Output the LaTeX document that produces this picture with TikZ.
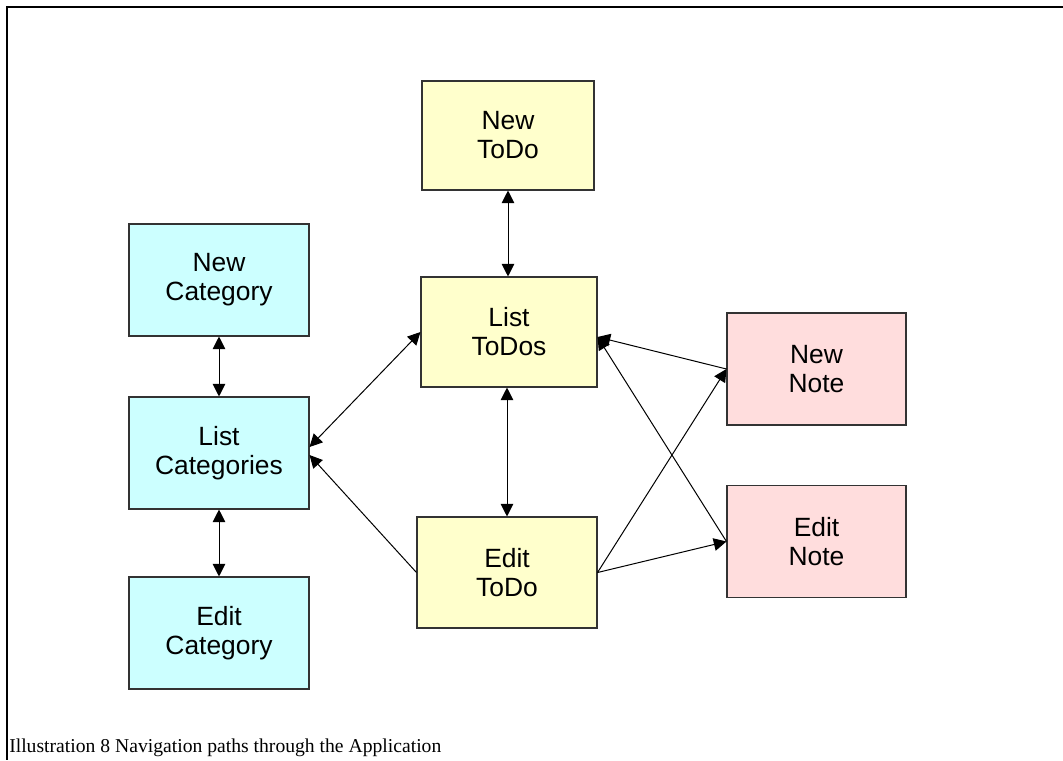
\documentclass[tikz,border=0pt]{standalone}
\usepackage{fontspec}
\setmainfont{Liberation Sans}
\newfontfamily\capfont{Liberation Serif}
\usetikzlibrary{arrows.meta}
\definecolor{catfill}{HTML}{CCFFFF}
\definecolor{todofill}{HTML}{FFFFCC}
\definecolor{notefill}{HTML}{FFDDDD}
\definecolor{boxline}{HTML}{333333}
\tikzset{
  pagebox/.style={draw=boxline, line width=0.8pt, align=center, inner sep=0pt,
    font=\fontsize{19.8pt}{21.75pt}\selectfont},
  catbox/.style={pagebox, fill=catfill, minimum width=135pt, minimum height=84pt},
  todobox/.style={pagebox, fill=todofill},
  notebox/.style={pagebox, fill=notefill, minimum width=134.25pt, minimum height=84pt},
  link/.style={line width=0.75pt, -{Triangle[length=9.5pt,width=9.5pt]}},
  dlink/.style={line width=0.75pt, {Triangle[length=9.5pt,width=9.5pt]}-{Triangle[length=9.5pt,width=9.5pt]}},
  frameline/.style={line width=1.5pt}
}
\begin{document}
\begin{tikzpicture}[x=0.75pt,y=-0.75pt]
\useasboundingbox (0,0) rectangle (1063,760);
\coordinate (ftr) at (1063,7);
\coordinate (fc) at (7,7);
\coordinate (fbl) at (7,760);
\draw[frameline] (ftr) -- (fc) -- (fbl);

\node[catbox] (NC) at (219,280) {New\\Category};
\node[catbox] (LC) at (219,453) {List\\Categories};
\node[catbox] (EC) at (219,633) {Edit\\Category};

\node[todobox, minimum width=129pt, minimum height=81.75pt] (NT) at (508,135.5) {New\\ToDo};
\node[todobox, minimum width=132pt, minimum height=82.5pt] (LT) at (509,332) {List\\ToDos};
\node[todobox, minimum width=135pt, minimum height=83.25pt] (ET) at (507,572.5) {Edit\\ToDo};

\node[notebox] (NN) at (816.5,369) {New\\Note};
\node[notebox] (EN) at (816.5,541.5) {Edit\\Note};

\draw[dlink] (NC.south) -- (LC.north);
\draw[dlink] (LC.south) -- (EC.north);
\draw[dlink] (NT.south) -- (NT.south |- LT.north);
\draw[dlink] (ET.north |- LT.south) -- (ET.north);
\draw[dlink] ([yshift=4.5pt]LC.east) -- (LT.west);
\draw[link] (ET.west) -- ([yshift=-1.5pt]LC.east);
\draw[link] (NN.west) -- ([yshift=-3.75pt]LT.east);
\draw[link] (EN.west) -- ([yshift=-3.75pt]LT.east);
\draw[link] (ET.east) -- (NN.west);
\draw[link] (ET.east) -- (EN.west);

\node[anchor=base west, inner sep=0pt] (cap) at (9,752)
  {\resizebox{324pt}{!}{\capfont Illustration 8 Navigation paths through the Application}};
\end{tikzpicture}
\end{document}
